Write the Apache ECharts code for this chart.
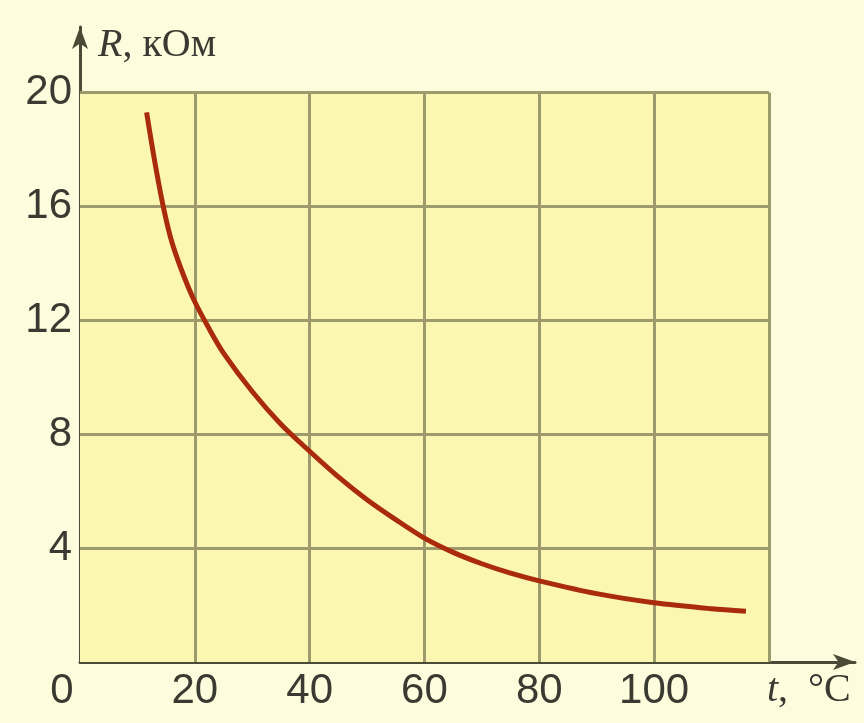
<!DOCTYPE html>
<html>
<head>
<meta charset="utf-8">
<script src="https://cdn.jsdelivr.net/npm/echarts@6/dist/echarts.min.js"></script>
<style>
html,body{margin:0;padding:0;background:#fdfcdc;}
#chart{width:864px;height:723px;}
</style>
</head>
<body>
<div id="chart"></div>
<script>
// Data
const temps = [11.6, 13, 14.5, 16, 18, 20, 22.5, 25, 30, 35, 40, 45, 50, 55, 60, 65, 70, 75, 80, 90, 100, 110, 116];
const resist = [19.3, 17.6, 16.0, 14.75, 13.6, 12.65, 11.7, 10.85, 9.5, 8.35, 7.4, 6.5, 5.7, 5.0, 4.35, 3.85, 3.45, 3.12, 2.85, 2.4, 2.08, 1.87, 1.78];
const xTicks = [0, 20, 40, 60, 80, 100, 120];
const yTicks = [0, 4, 8, 12, 16, 20];
const xLabels = ['0', '20', '40', '60', '80', '100'];
const yLabels = ['4', '8', '12', '16', '20'];

const xMin = 0, xGridMax = 120, yMin = 0, yGridMax = 20;

const gridLines = [];
xTicks.filter(v => v > xMin).forEach(v => gridLines.push([{coord: [v, yMin]}, {coord: [v, yGridMax]}]));
yTicks.filter(v => v > yMin).forEach(v => gridLines.push([{coord: [xMin, v]}, {coord: [xGridMax, v]}]));

const chart = echarts.init(document.getElementById('chart'));
const labelFont = {fontFamily: 'Liberation Sans', fontSize: 42, color: '#3a3a32'};
const nameColor = '#3a3a32';

chart.setOption({
  animation: false,
  backgroundColor: '#fdfcdc',
  grid: {left: 80, right: 9, top: 27, bottom: 61, containLabel: false},
  xAxis: {
    type: 'value', min: 0, max: 135, interval: 20,
    axisLine: {show: true, symbol: ['none', 'arrow'], symbolSize: [12, 22], lineStyle: {color: '#4a4a36', width: 3}},
    axisTick: {show: false},
    splitLine: {show: false},
    axisLabel: Object.assign({}, labelFont, {
      margin: 8,
      formatter: function (v) {
        const s = String(v);
        if (v === 0) return '{z|0}';
        return xLabels.indexOf(s) >= 0 ? s : '';
      },
      rich: {z: Object.assign({}, labelFont, {padding: [0, 36, 0, 0]})}
    }),
    name: '{i|t},  °C',
    nameLocation: 'end',
    nameGap: -88,
    nameTextStyle: {
      fontFamily: 'Liberation Serif', fontSize: 40, color: nameColor, align: 'left', verticalAlign: 'top', padding: [8, 0, 0, 0],
      rich: {i: {fontFamily: 'Liberation Serif', fontStyle: 'italic', fontSize: 40, color: nameColor}}
    }
  },
  yAxis: {
    type: 'value', min: 0, max: 22.3, interval: 4,
    axisLine: {show: true, symbol: ['none', 'arrow'], symbolSize: [12, 22], lineStyle: {color: '#4a4a36', width: 3}},
    axisTick: {show: false},
    splitLine: {show: false},
    axisLabel: Object.assign({}, labelFont, {
      margin: 8,
      formatter: function (v) {
        const s = String(v);
        return yLabels.indexOf(s) >= 0 ? s : '';
      }
    }),
    name: '{i|R}, кОм',
    nameLocation: 'end',
    nameGap: 0,
    nameTextStyle: {
      fontFamily: 'Liberation Serif', fontSize: 40, color: nameColor, align: 'left', verticalAlign: 'top', padding: [-2, 0, 0, 18],
      rich: {i: {fontFamily: 'Liberation Serif', fontStyle: 'italic', fontSize: 40, color: nameColor}}
    }
  },
  series: [
    {
      type: 'line',
      data: [],
      silent: true,
      z: 1,
      markArea: {
        silent: true,
        itemStyle: {color: '#fbf7b2'},
        data: [[{coord: [xMin, yMin]}, {coord: [xGridMax, yGridMax]}]]
      },
      markLine: {
        silent: true,
        symbol: ['none', 'none'],
        label: {show: false},
        lineStyle: {color: '#9d9b6c', width: 3, type: 'solid'},
        data: gridLines
      }
    },
    {
      type: 'line',
      z: 5,
      smooth: 0.3,
      showSymbol: false,
      lineStyle: {color: '#aa2b0c', width: 5, cap: 'butt'},
      data: temps.map((t, i) => [t, resist[i]])
    }
  ]
});
</script>
</body>
</html>
